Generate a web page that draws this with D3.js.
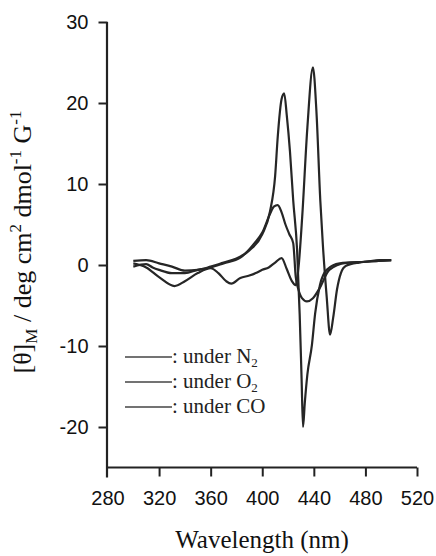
<!DOCTYPE html>
<html>
<head>
<meta charset="utf-8">
<script src="https://cdn.jsdelivr.net/npm/d3@7"></script>
<style>
  body { margin: 0; background: #fff; }
  svg { display: block; }
</style>
</head>
<body>
<div id="chart"></div>
<script>
// wavelength (nm) / [theta]_M values
const n2Wl  = [300,310,320,330,340,350,360,370,380,390,400,406,410,412,415,417,419,421.5,424,427,429,430.5,431.6,433,435,438.5,441,444.7,450,460,480,500];
const n2Val = [0.5,0.6,0.2,-0.2,-0.7,-0.6,-0.2,0.3,0.8,1.8,3.8,6.6,11,15.8,20.5,21.2,18.5,14,8,1.9,-6,-14,-20,-17,-13.5,-9.9,-6,-2.5,-0.6,0.2,0.4,0.6];

const o2Wl  = [300,310,315,320,330,340,350,360,370,383,394,400,406,409,412,415,418,421,424,426,428,430.8,434.6,439.3,444.7,452,465,480,491,500];
const o2Val = [-0.2,0.1,-0.3,-0.6,-1,-1,-0.6,-0.3,0.2,0.9,2.7,4,6.3,7.2,7.4,6.5,5,3.8,2.7,-1.5,-3,-4.1,-4.5,-4.1,-2.8,-0.6,0.25,0.4,0.6,0.6];

const coWl  = [300,310,320,332,340,350,360,366,372,376,383,390,395,400,405,410,415,419,423,426,428,431,435,439.3,442,445,447,450,452.6,455,458,461,465,475,490,500];
const coVal = [0.2,-0.3,-1.5,-2.6,-2,-1,-0.4,-1,-2,-2.3,-1.6,-1.3,-1,-0.6,-0.3,0.3,0.86,-0.5,-2,-2.5,-0.5,6,17,24.4,19,8,2.5,-4,-8.6,-6.5,-3,-1,-0.1,0.3,0.5,0.6];

const xTicks = [280,320,360,400,440,480,520];
const yTicks = [-20,-10,0,10,20,30];
const legendNames = ["N", "O", "CO"];
const legendSubs  = ["2", "2", ""];

const W = 436, H = 556;
const svg = d3.select("#chart").append("svg").attr("width", W).attr("height", H);

const x = d3.scaleLinear().domain([280, 520]).range([107.5, 417]);
const y = d3.scaleLinear().domain([-25, 30]).range([467.5, 22]);

// axes
const xAxis = svg.append("g")
  .attr("transform", `translate(0,${y(-25)})`)
  .call(d3.axisBottom(x).tickValues(xTicks).tickSize(9).tickPadding(14).tickFormat(d => String(d)));
const yAxis = svg.append("g")
  .attr("transform", `translate(${x(280)},0)`)
  .call(d3.axisLeft(y).tickValues(yTicks).tickSize(9).tickPadding(10).tickFormat(d => String(d)));
yAxis.select(".domain").attr("d", `M-0.5,${y(30)}V${y(-25) + 10}`);
xAxis.select(".domain").attr("d", `M${x(280)},0H${x(520)}`);

[xAxis, yAxis].forEach(g => {
  g.select(".domain").attr("stroke", "#222").attr("stroke-width", 2.2);
  g.selectAll(".tick line").attr("stroke", "#222").attr("stroke-width", 2);
  g.selectAll(".tick text")
    .attr("fill", "#111")
    .style("font-family", "'Liberation Sans', Arial, sans-serif")
    .style("font-size", "20px");
});
// drop the 280 tick (the y axis line covers it)
xAxis.selectAll(".tick").filter(d => d === 280).select("line").remove();

// curves
const line = d3.line().x(d => x(d[0])).y(d => y(d[1])).curve(d3.curveMonotoneX);
const series = [
  d3.zip(n2Wl, n2Val),
  d3.zip(o2Wl, o2Val),
  d3.zip(coWl, coVal)
];
svg.append("g").selectAll("path")
  .data(series)
  .join("path")
    .attr("d", line)
    .attr("fill", "none")
    .attr("stroke", "#262626")
    .attr("stroke-width", 2.2)
    .attr("stroke-linejoin", "round");

// legend
const legY = [357, 382, 407];
const leg = svg.append("g");
legendNames.forEach((name, i) => {
  leg.append("line")
    .attr("x1", 125).attr("x2", 172)
    .attr("y1", legY[i]).attr("y2", legY[i])
    .attr("stroke", "#444").attr("stroke-width", 1.6);
  const t = leg.append("text")
    .attr("x", 172).attr("y", legY[i] + 6)
    .attr("fill", "#222")
    .style("font-family", "'Liberation Serif', 'Times New Roman', serif")
    .style("font-size", "21px");
  t.append("tspan").text(": under " + name);
  if (legendSubs[i]) t.append("tspan").attr("dy", 4).style("font-size", "13px").text(legendSubs[i]);
});

// axis titles
svg.append("text")
  .attr("x", 262).attr("y", 548)
  .attr("text-anchor", "middle")
  .attr("fill", "#111")
  .style("font-family", "'Liberation Serif', 'Times New Roman', serif")
  .style("font-size", "25px")
  .text("Wavelength (nm)");

const yt = svg.append("text")
  .attr("transform", "translate(31,242) rotate(-90)")
  .attr("text-anchor", "middle")
  .attr("fill", "#111")
  .style("font-family", "'Liberation Serif', 'Times New Roman', serif")
  .style("font-size", "26px");
yt.append("tspan").text("[θ]");
yt.append("tspan").attr("dy", 6).style("font-size", "17px").text("M");
yt.append("tspan").attr("dy", -6).text(" / deg cm");
yt.append("tspan").attr("dy", -10).style("font-size", "17px").text("2");
yt.append("tspan").attr("dy", 10).text(" dmol");
yt.append("tspan").attr("dy", -10).style("font-size", "17px").text("-1");
yt.append("tspan").attr("dy", 10).text(" G");
yt.append("tspan").attr("dy", -10).style("font-size", "17px").text("-1");
</script>
</body>
</html>
